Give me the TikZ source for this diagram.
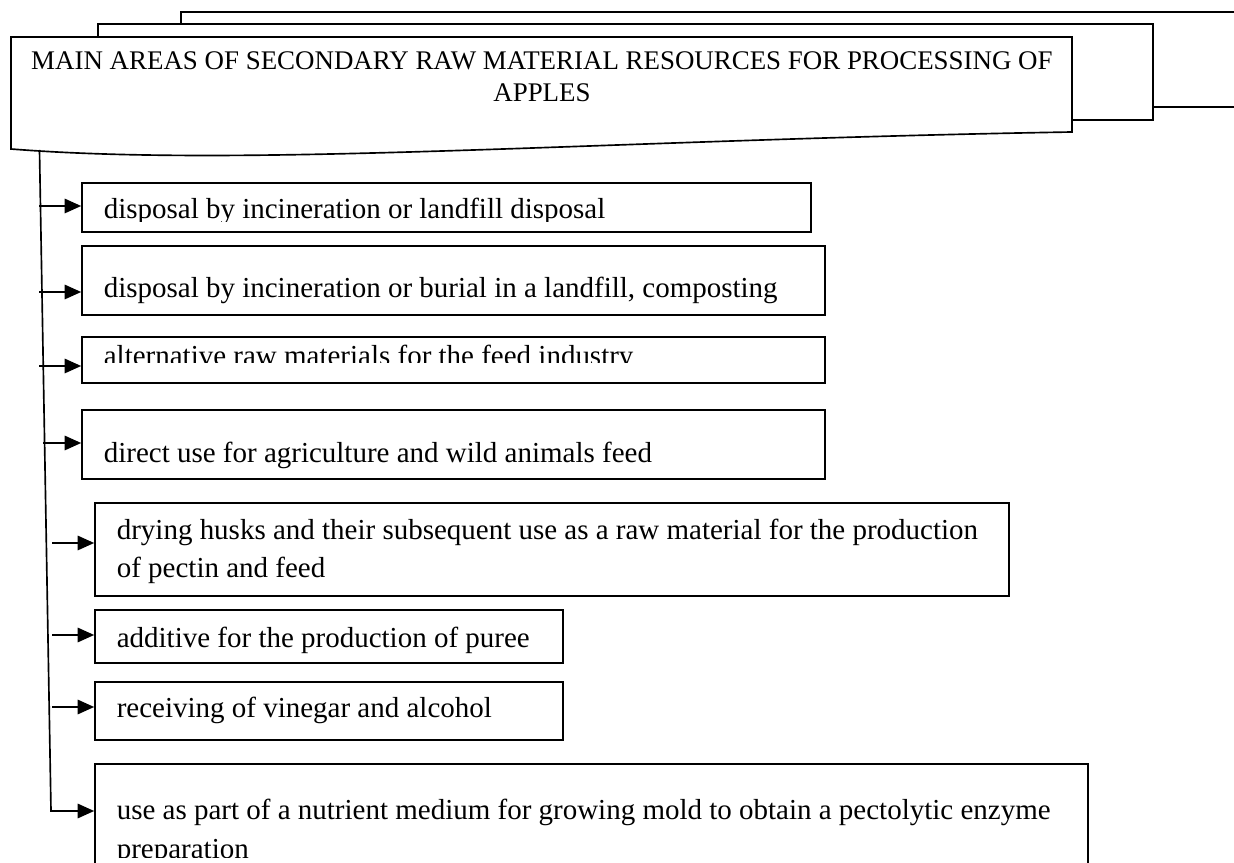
\documentclass[tikz,border=0pt]{standalone}
\usepackage{fontspec}
\setmainfont{Liberation Serif}
\usetikzlibrary{arrows.meta,fit}

\begin{document}
\begin{tikzpicture}[x=0.483pt, y=-0.483pt, >={Triangle[length=8pt,width=7pt]}, line width=0.8pt,
  box/.style={draw, inner sep=0pt, fit={#1}},
  item/.style={anchor=base west, inner sep=0pt, align=left, font=\fontsize{14}{18.4}\selectfont}]
  \useasboundingbox (0,0) rectangle (1234,863);
  % stacked document frames
  \draw (181,24) -- (181,12) -- (1240,12);
  \draw (1153,107) -- (1240,107);
  \draw (98,37) -- (98,24) -- (1153,24) -- (1153,120) -- (1072,120);
  \draw[fill=white] (11,149) -- (11,37) -- (1072,37) -- (1072,132)
    .. controls (600,140) and (250,168) .. (11,149) -- cycle;
  \node[anchor=base, inner sep=0pt, align=center, font=\fontsize{13}{15.5}\selectfont] (title) at (542,102)
    {MAIN AREAS OF SECONDARY RAW MATERIAL RESOURCES FOR PROCESSING OF\\APPLES};
  % boxes
  \foreach \i/\l/\t/\r/\b in {1/82/183/811/232, 2/82/246/825/315, 3/82/337/825/383, 4/82/410/825/479,
      5/95/503/1009/596, 6/95/610/563/663, 7/95/682/563/740, 8/95/764/1088/900}
    \node[box={(\l,\t) (\r,\b)}] (b\i) {};
  % texts
  \begin{scope}
    \clip (82,183) rectangle (811,222);
    \node[item] (t1) at (103,219) {disposal by incineration or landfill disposal};
  \end{scope}
  \node[item] (t2) at (103,298) {disposal by incineration or burial in a landfill, composting};
  \begin{scope}
    \clip (82,337) rectangle (825,363);
    \node[item] (t3) at (103,366) {alternative raw materials for the feed industry};
  \end{scope}
  \node[item] (t4) at (103,463) {direct use for agriculture and wild animals feed};
  \node[item] (t5) at (116,578) {drying husks and their subsequent use as a raw material for the production\\of pectin and feed};
  \node[item] (t6) at (116,647) {additive for the production of puree};
  \node[item] (t7) at (116,718) {receiving of vinegar and alcohol};
  \begin{scope}
    \clip (95,764) rectangle (1088,857);
    \node[item] (t8) at (116,858) {use as part of a nutrient medium for growing mold to obtain a pectolytic enzyme\\preparation};
  \end{scope}
  % connectors
  \coordinate (trunktop) at (39.5,150);
  \coordinate (trunkbot) at (51,811);
  \foreach \i/\x/\y in {1/39/206, 2/39/292, 3/39/366, 4/43/443, 5/52/543, 6/52/635, 7/52/707}
    \coordinate (s\i) at (\x,\y);
  \foreach \i in {1,...,7}
    \draw[->] (s\i) -- (s\i -| b\i.west);
  \draw[->] (trunktop) -- (trunkbot) -- (trunkbot -| b8.west);
\end{tikzpicture}
\end{document}
